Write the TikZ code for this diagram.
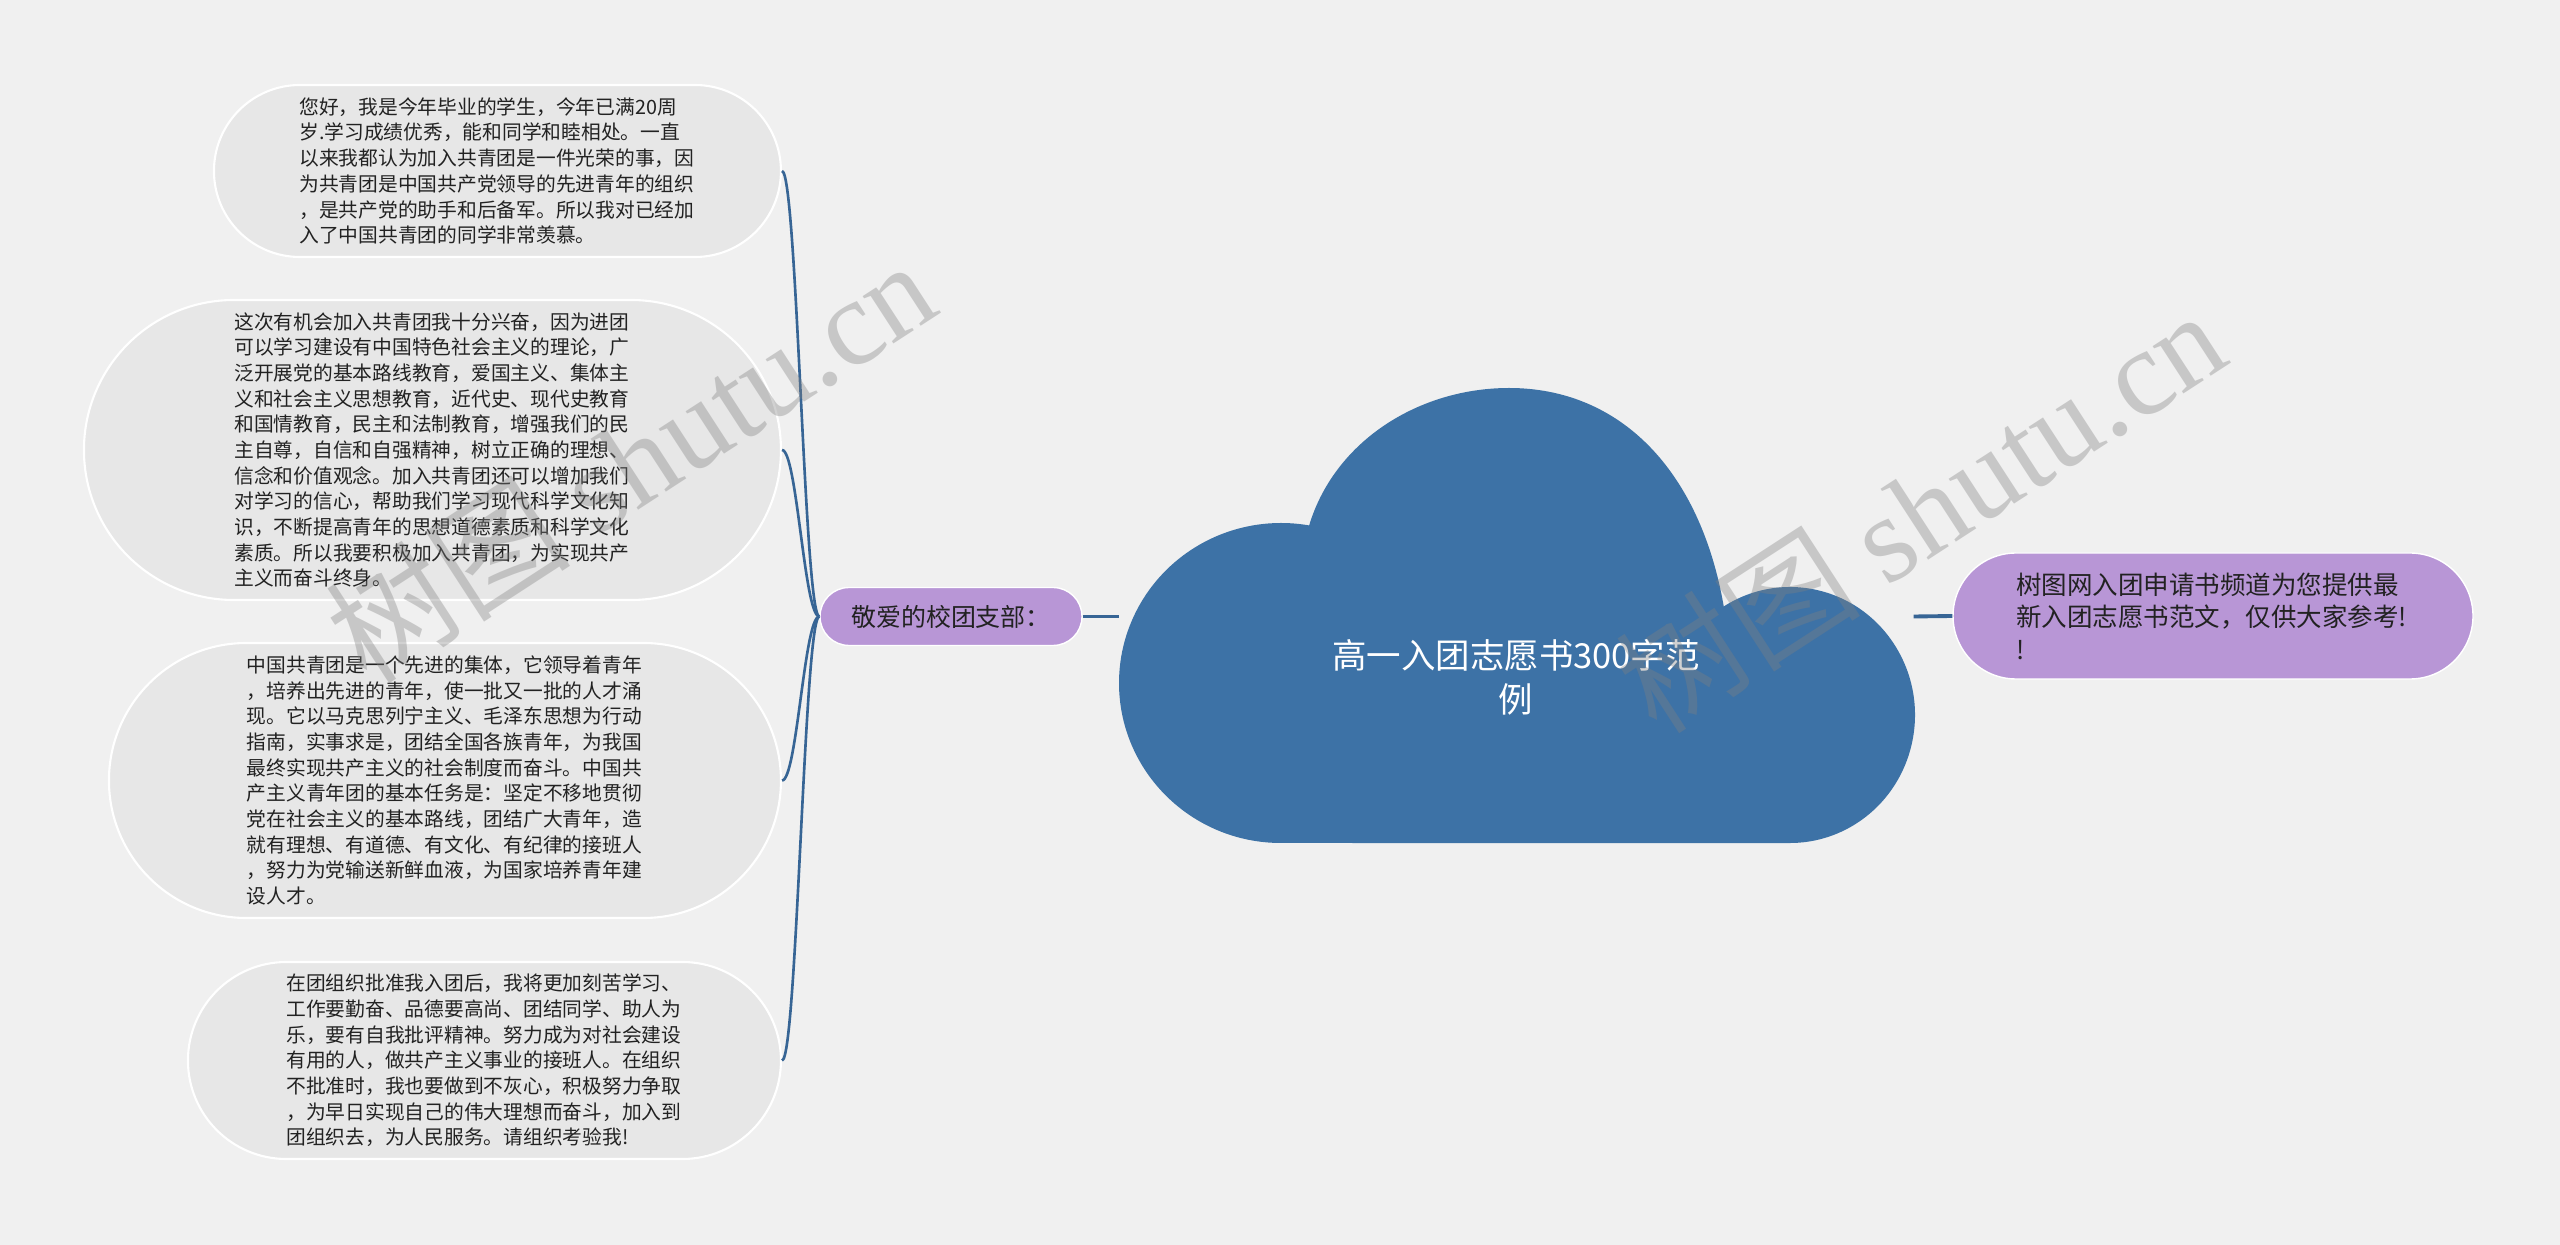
\documentclass[tikz,border=0pt]{standalone}
\usepackage{fontspec}
\usepackage{tikz}
\newfontfamily\cjk{Noto Sans CJK SC}
\newfontfamily\wmfont{Liberation Serif}
\definecolor{bgcol}{RGB}{240,240,240}
\definecolor{cloudblue}{RGB}{61,114,166}
\definecolor{linkblue}{RGB}{55,101,149}
\definecolor{lilac}{RGB}{184,150,214}
\definecolor{boxgray}{RGB}{231,231,231}
\definecolor{inkcol}{RGB}{34,34,34}

\begin{document}
\begin{tikzpicture}[
  textbox/.style={draw=white, line width=0.6pt, fill=boxgray, text=inkcol,
    inner sep=0pt, text width=3.96cm, align=left,
    font=\cjk\fontsize{5.62}{7.31}\selectfont},
  pill/.style={draw=white, line width=0.4pt, fill=lilac, text=inkcol, inner sep=0pt},
  link/.style={draw=linkblue, line width=0.75pt},
  trunk/.style={draw=linkblue, line width=1.1pt},
  watermark/.style={text=gray, opacity=0.36, rotate=33, inner sep=0pt}]
\useasboundingbox (0,0) rectangle (25.6,-12.45);
\fill[bgcol] (0,0) rectangle (25.6,-12.45);

% the cloud
\fill[cloudblue] (12.81,-8.43)
  arc[start angle=270, end angle=80, x radius=1.62, y radius=1.60]
  .. controls (13.35,-4.40) and (14.20,-3.88) .. (15.09,-3.88)
  .. controls (16.20,-3.88) and (17.00,-4.70) .. (17.2375,-6.0646)
  arc[start angle=122, end angle=-90, x radius=1.25, y radius=1.28]
  -- cycle;
\node[minimum width=7.93cm, minimum height=4.55cm, inner sep=0pt] (cloud) at (15.165,-6.165) {};
\node[text=white, align=center, font=\cjk\fontsize{9.8}{12.5}\selectfont] (title) at (15.16,-6.77)
  {高一入团志愿书300字范\\例};

% first level
\node[pill, minimum width=2.62cm, minimum height=0.58cm, rounded corners=0.29cm,
  font=\cjk\fontsize{7.11}{9}\selectfont] (school) at (9.51,-6.165) {敬爱的校团支部：};
\node[pill, minimum width=5.20cm, minimum height=1.26cm, rounded corners=0.63cm,
  text width=3.94cm, align=left, font=\cjk\fontsize{7.26}{9.25}\selectfont] (tip) at (22.13,-6.16)
  {树图网入团申请书频道为您提供最\\新入团志愿书范文，仅供大家参考!\\!};

\draw[trunk] (school.east) -- (cloud.west);
\draw[trunk] (cloud.east) -- (tip.west);

% paragraphs
\node[textbox, anchor=east, minimum width=5.67cm, minimum height=1.72cm, rounded corners=0.86cm] (p1) at (7.82,-1.71)
  {您好，我是今年毕业的学生，今年已满20周\\岁.学习成绩优秀，能和同学和睦相处。一直\\以来我都认为加入共青团是一件光荣的事，因\\为共青团是中国共产党领导的先进青年的组织\\，是共产党的助手和后备军。所以我对已经加\\入了中国共青团的同学非常羡慕。};
\node[textbox, anchor=east, minimum width=6.97cm, minimum height=3.00cm, rounded corners=1.5cm] (p2) at (7.82,-4.50)
  {这次有机会加入共青团我十分兴奋，因为进团\\可以学习建设有中国特色社会主义的理论，广\\泛开展党的基本路线教育，爱国主义、集体主\\义和社会主义思想教育，近代史、现代史教育\\和国情教育，民主和法制教育，增强我们的民\\主自尊，自信和自强精神，树立正确的理想、\\信念和价值观念。加入共青团还可以增加我们\\对学习的信心，帮助我们学习现代科学文化知\\识，不断提高青年的思想道德素质和科学文化\\素质。所以我要积极加入共青团，为实现共产\\主义而奋斗终身。};
\node[textbox, anchor=east, minimum width=6.72cm, minimum height=2.75cm, rounded corners=1.375cm] (p3) at (7.82,-7.805)
  {中国共青团是一个先进的集体，它领导着青年\\，培养出先进的青年，使一批又一批的人才涌\\现。它以马克思列宁主义、毛泽东思想为行动\\指南，实事求是，团结全国各族青年，为我国\\最终实现共产主义的社会制度而奋斗。中国共\\产主义青年团的基本任务是：坚定不移地贯彻\\党在社会主义的基本路线，团结广大青年，造\\就有理想、有道德、有文化、有纪律的接班人\\，努力为党输送新鲜血液，为国家培养青年建\\设人才。};
\node[textbox, anchor=east, minimum width=5.93cm, minimum height=1.97cm, rounded corners=0.985cm] (p4) at (7.82,-10.605)
  {在团组织批准我入团后，我将更加刻苦学习、\\工作要勤奋、品德要高尚、团结同学、助人为\\乐，要有自我批评精神。努力成为对社会建设\\有用的人，做共产主义事业的接班人。在组织\\不批准时，我也要做到不灰心，积极努力争取\\，为早日实现自己的伟大理想而奋斗，加入到\\团组织去，为人民服务。请组织考验我!};

\foreach \p in {p1,p2,p3,p4} {
  \draw[link] (school.west) .. controls +(-0.15,0) and +(0.15,0) .. (\p.east);
}

% watermark
\node[watermark] (wm1) at (6.3,-4.6) {\cjk\fontsize{35}{40}\selectfont 树图 \wmfont shutu.cn};
\node[watermark] (wm2) at (19.2,-5.1) {\cjk\fontsize{35}{40}\selectfont 树图 \wmfont shutu.cn};
\end{tikzpicture}
\end{document}
